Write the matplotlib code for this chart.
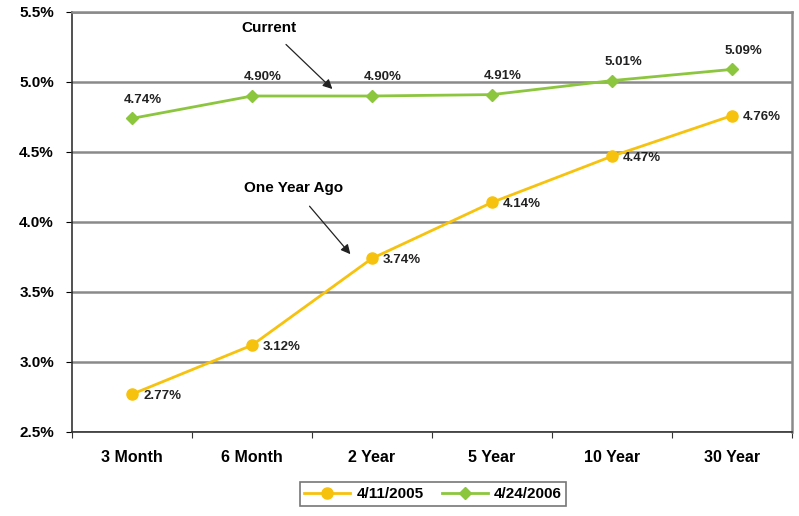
import matplotlib.pyplot as plt
from matplotlib.ticker import FuncFormatter

maturities = ["3 Month", "6 Month", "2 Year", "5 Year", "10 Year", "30 Year"]
year_ago = [2.77, 3.12, 3.74, 4.14, 4.47, 4.76]
current = [4.74, 4.90, 4.90, 4.91, 5.01, 5.09]
series_names = ["4/11/2005", "4/24/2006"]

plt.rcParams["font.family"] = ["Liberation Sans", "DejaVu Sans"]
plt.rcParams["font.weight"] = "bold"

fig = plt.figure(figsize=(7.99, 5.16), dpi=100)
ax = fig.add_axes([72 / 799, 84 / 516, 720 / 799, 420 / 516])

xs = [i + 0.5 for i in range(len(maturities))]
yellow = "#F7C20E"
green = "#8CC63E"

ax.plot(xs, year_ago, color=yellow, lw=2, marker="o", ms=8, label=series_names[0])
ax.plot(xs, current, color=green, lw=2, marker="D", ms=6, label=series_names[1])

for x, v in zip(xs, year_ago):
    ax.annotate(f"{v:.2f}%", (x, v), xytext=(8, -1), textcoords="offset points",
                fontsize=9.5, fontweight="bold", color="#222222", ha="left", va="center")
for x, v in zip(xs, current):
    ax.annotate(f"{v:.2f}%", (x, v), xytext=(8, 9), textcoords="offset points",
                fontsize=9.5, fontweight="bold", color="#222222", ha="center", va="bottom")

arrow = dict(arrowstyle="-|>", color="#222222", lw=0.9, mutation_scale=14)
ax.annotate("Current", xy=(xs[1] + 0.67, 4.95), xytext=(xs[1] + 0.14, 5.386),
            fontsize=11, fontweight="bold", ha="center", va="center",
            arrowprops=dict(arrow, shrinkA=7, shrinkB=0))
ax.annotate("One Year Ago", xy=(xs[1] + 0.82, 3.77), xytext=(xs[1] + 0.35, 4.243),
            fontsize=11, fontweight="bold", ha="center", va="center",
            arrowprops=dict(arrow, shrinkA=8, shrinkB=0))

ax.set_xlim(0, len(maturities))
ax.set_ylim(2.5, 5.5)
ax.set_yticks([2.5, 3.0, 3.5, 4.0, 4.5, 5.0, 5.5])
ax.yaxis.set_major_formatter(FuncFormatter(lambda v, p: f"{v:.1f}%"))
ax.set_xticks(range(len(maturities) + 1))
ax.set_xticklabels([])
ax.set_xticks(xs, minor=True)
ax.set_xticklabels(maturities, minor=True)
ax.tick_params(axis="x", which="minor", length=0, pad=13, labelsize=11.5)
ax.tick_params(axis="x", which="major", length=4, direction="out", color="#333333")
ax.tick_params(axis="y", length=4, direction="out", labelsize=11, pad=9)
ax.grid(axis="y", color="#8A8A8A", lw=1.8)
ax.set_axisbelow(True)
for s in ["top", "right"]:
    ax.spines[s].set_color("#8A8A8A")
    ax.spines[s].set_linewidth(1.8)
for s in ["left", "bottom"]:
    ax.spines[s].set_color("#333333")
    ax.spines[s].set_linewidth(1.2)

leg = fig.legend(loc="center", bbox_to_anchor=(433 / 799, 1 - 494 / 516), ncol=2,
                 frameon=True, fancybox=False, edgecolor="#555555", fontsize=11,
                 handlelength=3, columnspacing=1.2, borderpad=0.3, handletextpad=0.4)
leg.get_frame().set_linewidth(1.2)

fig.savefig("out.png", dpi=100)
